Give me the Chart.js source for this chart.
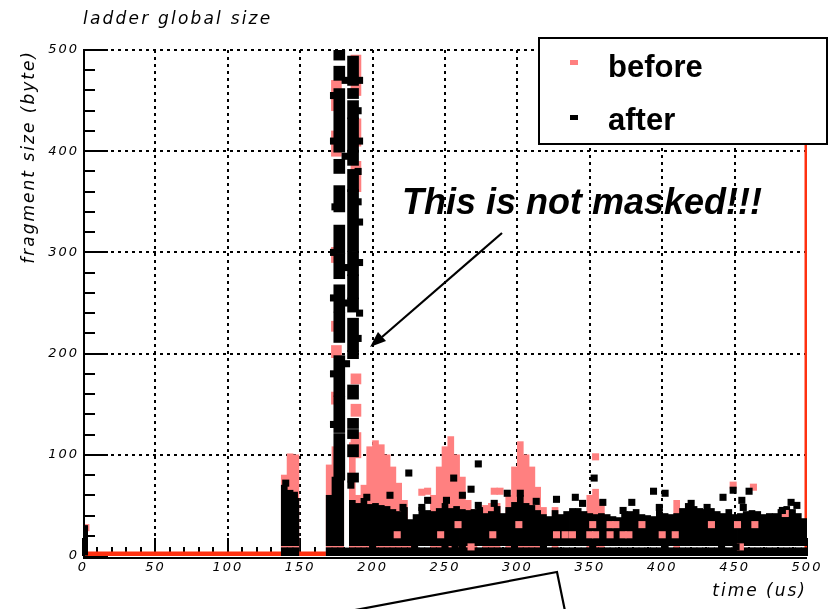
<!DOCTYPE html>
<html>
<head>
<meta charset="utf-8">
<title>ladder global size</title>
<script src="https://cdn.jsdelivr.net/npm/chart.js@4.4.1/dist/chart.umd.min.js"></script>
<style>
  html, body { margin: 0; padding: 0; background: #fff; }
  #wrap { position: relative; width: 837px; height: 609px; overflow: hidden; }
  #chart { position: absolute; left: 0; top: 0; }
  svg { position: absolute; left: 0; top: 0; }
  .note { position: absolute; white-space: nowrap; color: #000; }
  #title { left: 83px; top: 10px; font: italic 17px/17px 'DejaVu Sans', sans-serif; letter-spacing: 2.2px; }
  #callout { left: 402px; top: 184px; font: italic bold 36px/36px 'Liberation Sans', Arial, sans-serif; }
  #legend { position: absolute; left: 538px; top: 37px; width: 290px; height: 108px; box-sizing: border-box;
            border: 2px solid #000; background: #fff; }
  #legend .mk { position: absolute; left: 30px; width: 8px; height: 5px; }
  #legend .lb { position: absolute; left: 68px; font: bold 31px/31px 'Liberation Sans', Arial, sans-serif; }
</style>
</head>
<body>
<div id="wrap">
  <canvas id="chart" width="837" height="609"></canvas>
  <svg width="837" height="609" viewBox="0 0 837 609">
    <line x1="502" y1="233" x2="382" y2="337" stroke="#000" stroke-width="2.2"/>
    <polygon points="370,347 386,341 378,332" fill="#000"/>
    <polyline points="350,611 557,572 565,611" fill="none" stroke="#000" stroke-width="2.2"/>
  </svg>
  <div id="title" class="note">ladder global size</div>
  <div id="callout" class="note">This is not masked!!!</div>
  <div id="legend"></div>
</div>
<script>
const seriesNames = ['before', 'after'];
const seriesColors = ['#ff8080', '#000000'];
const edgeRed = '#ff3010';

const xTicks = [0, 50, 100, 150, 200, 250, 300, 350, 400, 450, 500];
const yTicks = [0, 100, 200, 300, 400, 500];

// "after": dense core, one bin every 4 us, value = top of the filled bin (byte)
const afterBinX = [
  139, 143, 147, 170, 174, 178,
  182, 186, 190, 194, 198, 202, 206, 210, 214, 218,
  222, 226, 230, 234, 238, 242, 246, 250, 254, 258,
  262, 266, 270, 274, 278, 282, 286, 290, 294, 298,
  302, 306, 310, 314, 318, 322, 326, 330, 334, 338,
  342, 346, 350, 354, 358, 362, 366, 370, 374, 378,
  382, 386, 390, 394, 398, 402, 406, 410, 414, 418,
  422, 426, 430, 434, 438, 442, 446, 450, 454, 458,
  462, 466, 470, 474, 478, 482, 486, 490, 494, 498,
];
const afterBinTop = [
  70, 65, 57, 60, 78, 75,
  8, 55, 52, 57, 51, 52, 50, 49, 46, 44,
  48, 36, 41, 48, 45, 44, 47, 52, 47, 49,
  46, 45, 46, 48, 42, 44, 49, 42, 48, 53,
  60, 52, 50, 45, 41, 39, 45, 41, 44, 47,
  47, 44, 42, 41, 42, 41, 39, 38, 44, 44,
  46, 41, 40, 39, 46, 42, 41, 42, 47, 52,
  49, 47, 46, 47, 44, 42, 46, 41, 42, 44,
  45, 44, 41, 42, 42, 46, 49, 46, 42, 37,
];
// no "after" entries in this size range (thin white line through the band)
const afterGap = [8.2, 10.2];

// "before": humps, same binning
const beforeBinX = [
  139, 143, 147, 170, 174, 178, 186, 190,
  194, 198, 202, 206, 210, 214, 218, 222, 226,
  242, 246, 250, 254, 258, 262, 266, 270,
  278, 282, 286,
  294, 298, 302, 306, 310, 314, 318, 326,
  350, 354, 358, 410,
];
const beforeBinTop = [
  80, 101, 100, 90, 108, 106, 112, 60,
  70, 108, 114, 110, 100, 88, 72, 55, 32,
  60, 88, 108, 118, 100, 78, 55, 46,
  50, 52, 52,
  60, 88, 113, 100, 88, 68, 48, 48,
  60, 66, 55, 55,
];

// the unmasked spike around 175-190 us: runs [from, to] in byte
const afterSpikeX = [177, 186.5];
const afterSpikeRuns = [
  [[490, 500], [470, 484], [399, 462], [378, 392], [340, 366], [299, 327], [274, 299],
   [241, 268], [211, 241], [158, 198], [122, 158], [75, 121]],
  [[465, 494], [452, 462], [432, 450], [399, 433], [386, 401], [360, 382], [301, 362],
   [277, 301], [254, 278], [241, 255], [202, 235], [195, 203], [155, 169], [126, 136],
   [116, 125], [98, 110], [73, 82]],
];
const beforeSpikeX = [175, 188.5];
const beforeSpikeRuns = [
  [[440, 470], [395, 420], [290, 305], [222, 232], [196, 208], [150, 162]],
  [[455, 495], [405, 432], [360, 390], [170, 180], [138, 150], [97, 122]],
];

// isolated entries [time, size]
const afterPoints = [
  [1, 4], [1, 10], [1, 16], [1, 22], [1, 27],
  [176, 500], [181, 470], [173, 455], [190, 440], [190, 380], [191, 330], [173, 300],
  [183, 285], [181, 250], [190, 215], [173, 180], [178, 100], [185, 70],
  [173, 410], [173, 255], [191, 470], [191, 410], [190, 350], [191, 290], [191, 240],
  [173, 130], [174, 345], [182, 190], [181, 395],
  [140, 72], [146, 60],
  [186, 78], [196, 58], [212, 60], [225, 82], [221, 48], [234, 48], [238, 55], [251, 55],
  [256, 77], [262, 60], [268, 66], [273, 91], [273, 50], [284, 52], [293, 62], [302, 62],
  [313, 54], [327, 56], [340, 58], [345, 52], [353, 77], [359, 53], [373, 45], [379, 53],
  [394, 64], [398, 48], [402, 62], [420, 52], [431, 48], [442, 58], [449, 65], [455, 55],
  [456, 48], [460, 64], [483, 45], [489, 53], [493, 50],
  [200, 9], [229, 9], [250, 9], [257, 9], [262, 9], [298, 9], [318, 9], [352, 9],
  [402, 9], [441, 9], [451, 9],
];
const beforePoints = [
  [2, 28], [234, 63], [238, 64], [284, 64], [288, 64], [354, 98], [449, 70], [463, 68],
  [485, 42], [217, 21], [247, 21], [259, 31], [268, 9], [283, 21], [301, 31], [327, 21],
  [333, 21], [338, 21], [350, 21], [354, 21], [364, 21], [373, 21], [377, 21], [400, 21],
  [409, 21], [352, 31], [364, 31], [368, 31], [386, 31], [434, 31], [452, 31], [464, 31],
  [454, 9],
];
// "before" entries piled on the frame: size 0 up to 182 us, and time 500 at all sizes
const beforeZeroX = [0, 182];
const beforeEdgeY = [0, 500];

function binBars(xs, tops, gap) {
  const bars = [];
  xs.forEach((x, i) => {
    const top = tops[i];
    if (gap && top > gap[1]) {
      bars.push({ x, y: [0, gap[0]] }, { x, y: [gap[1], top] });
    } else {
      bars.push({ x, y: [0, top] });
    }
  });
  return bars;
}

function runBars(xs, runs) {
  return runs.flatMap((list, i) => list.map((r) => ({ x: xs[i], y: r })));
}

const toPoints = (pairs) => pairs.map(([x, y]) => ({ x, y }));

// legend
document.getElementById('legend').innerHTML = seriesNames.map((name, i) =>
  `<div class="mk" style="top:${21 + i * 55}px;background:${seriesColors[i]}"></div>` +
  `<div class="lb" style="top:${12 + i * 53}px">${name}</div>`).join('');

const tickFont = { family: 'DejaVu Sans', size: 13, style: 'italic' };
const titleFont = { family: 'DejaVu Sans', size: 17, style: 'italic' };

const rootFrame = {
  id: 'rootFrame',
  beforeDraw(chart) {
    chart.ctx.letterSpacing = '2px';
  },
  beforeDatasetsDraw(chart) {
    const { ctx, chartArea: a, scales: { x, y } } = chart;
    ctx.save();
    ctx.strokeStyle = '#000';
    ctx.lineWidth = 2;
    ctx.setLineDash([3, 4]);
    ctx.beginPath();
    xTicks.slice(1, -1).forEach((v) => {
      const p = Math.round(x.getPixelForValue(v));
      ctx.moveTo(p, a.top);
      ctx.lineTo(p, a.bottom);
    });
    yTicks.slice(1).forEach((v) => {
      const p = Math.round(y.getPixelForValue(v));
      ctx.moveTo(a.left, p);
      ctx.lineTo(a.right, p);
    });
    ctx.stroke();
    ctx.setLineDash([]);
    ctx.beginPath();
    for (let v = 0; v <= 500; v += 10) {
      const p = Math.round(x.getPixelForValue(v));
      ctx.moveTo(p, a.bottom);
      ctx.lineTo(p, a.bottom - (v % 50 === 0 ? 18 : 9));
    }
    for (let v = 0; v <= 500; v += 20) {
      const p = Math.round(y.getPixelForValue(v));
      ctx.moveTo(a.left, p);
      ctx.lineTo(a.left + (v % 100 === 0 ? 25 : 12), p);
    }
    ctx.stroke();
    ctx.restore();
  },
  afterDatasetsDraw(chart) {
    const { ctx, chartArea: a } = chart;
    ctx.save();
    ctx.strokeStyle = '#000';
    ctx.lineWidth = 2;
    ctx.beginPath();
    ctx.moveTo(a.left + 1, a.top);
    ctx.lineTo(a.left + 1, a.bottom + 2);
    ctx.lineTo(a.right, a.bottom + 2);
    ctx.stroke();
    ctx.restore();
  },
};

const barBase = { type: 'bar', grouped: false, borderWidth: 0, borderSkipped: false };
const pointBase = { type: 'scatter', pointStyle: 'rect', pointRadius: 5, pointBorderWidth: 0 };

new Chart(document.getElementById('chart'), {
  type: 'scatter',
  data: {
    datasets: [
      { ...pointBase, label: seriesNames[1], order: 0, data: toPoints(afterPoints),
        backgroundColor: seriesColors[1], pointBackgroundColor: seriesColors[1] },
      { ...pointBase, label: seriesNames[0], order: 1, data: toPoints(beforePoints),
        backgroundColor: seriesColors[0], pointBackgroundColor: seriesColors[0] },
      { ...barBase, label: seriesNames[1], order: 2, barThickness: 11,
        data: runBars(afterSpikeX, afterSpikeRuns), backgroundColor: seriesColors[1] },
      { ...barBase, label: seriesNames[1], order: 3, barThickness: 6,
        data: binBars(afterBinX, afterBinTop, afterGap), backgroundColor: seriesColors[1] },
      { ...barBase, label: seriesNames[0], order: 4, barThickness: 10,
        data: runBars(beforeSpikeX, beforeSpikeRuns), backgroundColor: seriesColors[0] },
      { ...barBase, label: seriesNames[0], order: 5, barThickness: 6,
        data: binBars(beforeBinX, beforeBinTop), backgroundColor: seriesColors[0] },
      { type: 'line', label: seriesNames[0], order: 6, clip: 0, pointRadius: 0, borderWidth: 9,
        borderColor: edgeRed, data: beforeZeroX.map((x) => ({ x, y: 0 })) },
      { type: 'line', label: seriesNames[0], order: 6, clip: 0, pointRadius: 0, borderWidth: 5,
        borderColor: edgeRed, data: beforeEdgeY.map((y) => ({ x: 500, y })) },
    ],
  },
  options: {
    responsive: false,
    animation: false,
    events: [],
    layout: { padding: { top: 50, right: 30, left: 0, bottom: 0 } },
    plugins: { legend: { display: false }, tooltip: { enabled: false } },
    scales: {
      x: {
        type: 'linear', min: 0, max: 500, offset: false,
        grid: { display: false, drawTicks: false, offset: false },
        border: { display: false },
        afterBuildTicks: (s) => { s.ticks = xTicks.map((v) => ({ value: v })); },
        afterFit: (s) => { s.height = 53; },
        ticks: { color: '#000', padding: 4, maxRotation: 0, autoSkip: false, font: tickFont },
        title: { display: true, text: 'time (us)', align: 'end', color: '#000', font: titleFont,
                 padding: { top: 0, bottom: 7 } },
      },
      y: {
        type: 'linear', min: 0, max: 500, stacked: false,
        grid: { display: false, drawTicks: false },
        border: { display: false },
        afterBuildTicks: (s) => { s.ticks = yTicks.map((v) => ({ value: v })); },
        afterFit: (s) => { s.width = 83; },
        ticks: { color: '#000', padding: 4, autoSkip: false, font: tickFont },
        title: { display: true, text: 'fragment size (byte)', align: 'end', color: '#000', font: titleFont,
                 padding: { top: 19, bottom: 0 } },
      },
    },
  },
  plugins: [rootFrame],
});
</script>
</body>
</html>
